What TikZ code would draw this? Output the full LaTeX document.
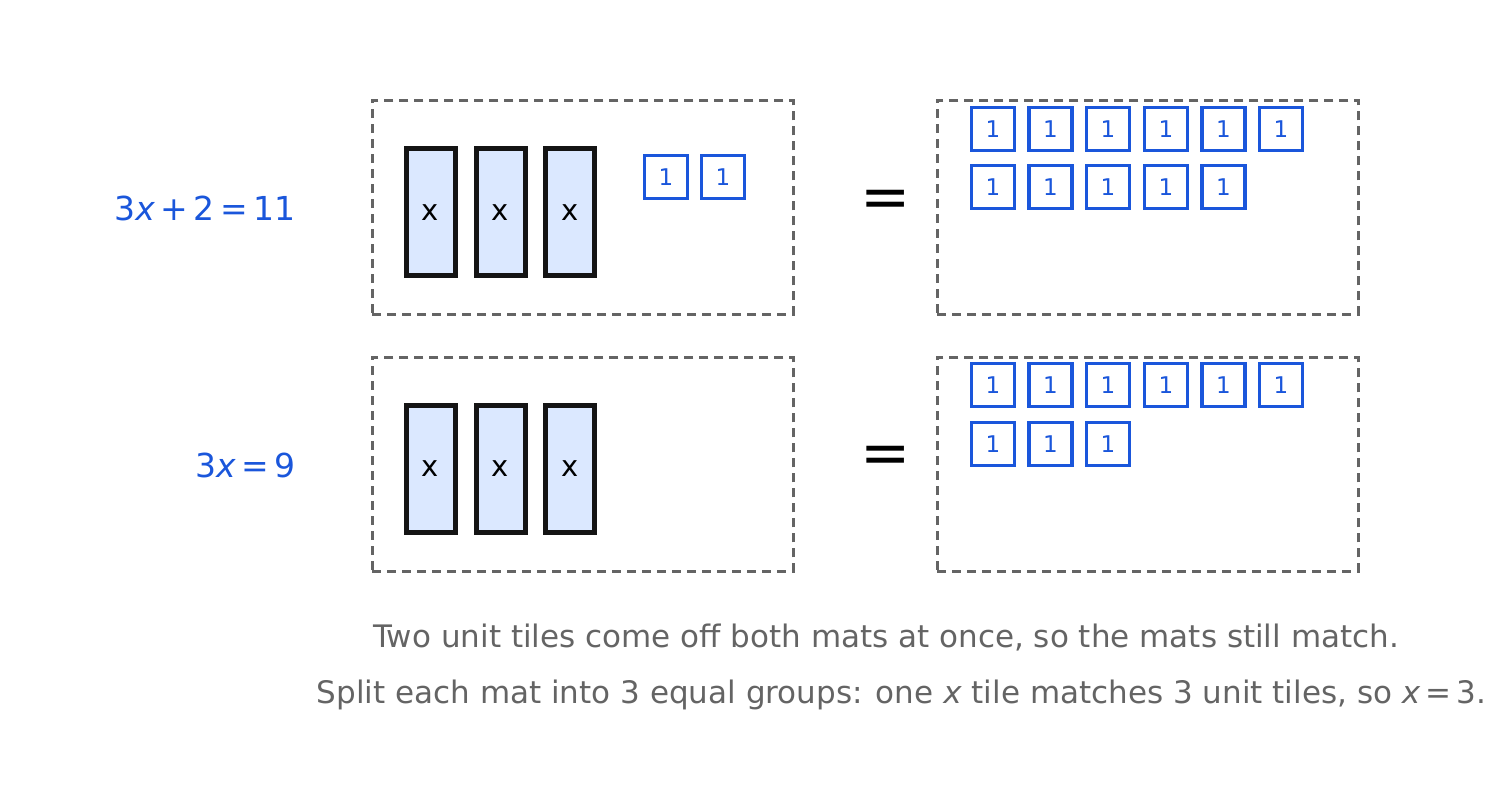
\documentclass[tikz,border=0pt]{standalone}
\usepackage{fontspec}
\setmainfont{DejaVu Sans}
\definecolor{tileblue}{RGB}{26,86,219}
\definecolor{tilefill}{RGB}{219,232,255}
\definecolor{matgray}{RGB}{100,100,100}
\tikzset{
  mat/.style={draw=matgray,line width=2.8pt,dash pattern=on 9pt off 6pt,minimum width=421pt,minimum height=214pt,anchor=north west,inner sep=0pt},
  xtile/.style={draw=black!92,line width=5pt,fill=tilefill,minimum width=49pt,minimum height=127pt,inner sep=0pt,font=\fontsize{29}{29}\selectfont},
  unit/.style={draw=tileblue,line width=3.8pt,fill=white,minimum width=43pt,minimum height=43pt,inner sep=0pt,text=tileblue,font=\fontsize{23}{23}\selectfont},
  eqn/.style={text=tileblue,anchor=east,font=\fontsize{33}{33}\selectfont},
  eqsign/.style={font=\fontsize{60}{60}\selectfont},
  caption/.style={text=matgray,font=\fontsize{31}{31}\selectfont}
}
\begin{document}
\begin{tikzpicture}[x=1pt,y=-1pt]
    \useasboundingbox (0,0) rectangle (1508,810);
    % mats
    \node [mat] (matTL) at (371,99) {};
    \node [mat] (matTR) at (936,99) {};
    \node [mat] (matBL) at (371,356) {};
    \node [mat] (matBR) at (936,356) {};
    % x tiles
    \foreach \i/\cx in {1/430.5,2/500.5,3/570} {
        \node [xtile] (xtop\i) at (\cx,212.5) {x};
        \node [xtile] (xbot\i) at (\cx,469) {x};
    }
    % unit tiles on the left mat
    \node [unit] (uTL1) at (666,177) {1};
    \node [unit] (uTL2) at (723,177) {1};
    % unit tiles on the right mats
    \foreach \i/\cx in {1/993,2/1050.5,3/1108,4/1166,5/1223.5,6/1281} {
        \node [unit] (uTRa\i) at (\cx,129) {1};
        \node [unit] (uBRa\i) at (\cx,385) {1};
    }
    \foreach \i/\cx in {1/993,2/1050.5,3/1108,4/1166,5/1223.5} {
        \node [unit] (uTRb\i) at (\cx,187) {1};
    }
    \foreach \i/\cx in {1/993,2/1050.5,3/1108} {
        \node [unit] (uBRb\i) at (\cx,444) {1};
    }
    % equals signs
    \node [eqsign] (eqTop) at (886,204) {=};
    \node [eqsign] (eqBot) at (886,460) {=};
    % equations
    \node [eqn] (eqnTop) at (299,208) {3\textit{x}\,+\,2\,=\,11};
    \node [eqn] (eqnBot) at (299,465) {3\textit{x}\,=\,9};
    % captions
    \node [caption] (capA) at (886,638) {Two unit tiles come off both mats at once, so the mats still match.};
    \node [caption,anchor=east] (capB) at (1490,695) {Split each mat into 3 equal groups: one \textit{x} tile matches 3 unit tiles, so \textit{x}\,=\,3.};
\end{tikzpicture}
\end{document}
